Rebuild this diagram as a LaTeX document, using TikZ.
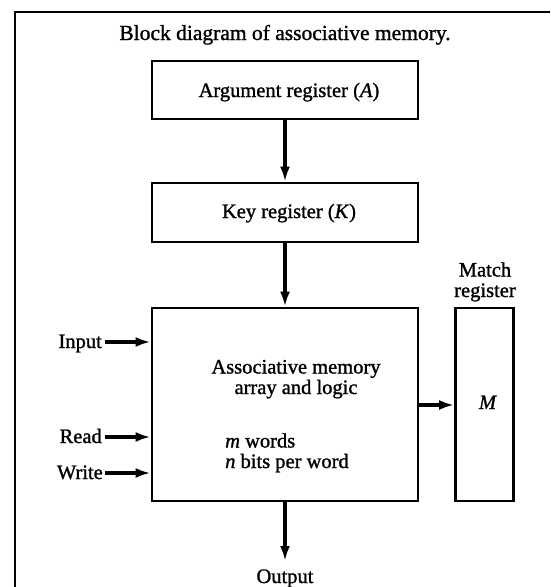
\documentclass[tikz,border=0pt]{standalone}
\usepackage{fontspec}
\setmainfont{Liberation Serif}[FakeBold=1.2]
\usetikzlibrary{arrows.meta}
\begin{document}
\begin{tikzpicture}[x=1pt,y=-1pt,
  blk/.style={draw,line width=2.8pt,inner sep=0pt},
  flow/.style={line width=3.4pt,-{Latex[length=15pt,width=10pt]}},
  lbl/.style={font=\fontsize{20.5}{20.5}\selectfont,inner sep=0pt},
]
\useasboundingbox (0,0) rectangle (550,587);
% frame
\draw[line width=2.4pt] (15,587) -- (15,12) -- (550,12);
% title
\node[font=\fontsize{21.5}{22}\selectfont,anchor=base,inner sep=0pt] (title) at (285,40) {Block diagram of associative memory.};
% registers
\node[blk,minimum width=266pt,minimum height=58pt] (arg) at (285,90) {};
\node[lbl,anchor=base] (argtext) at (289,97) {Argument register (\textit{A})};
\node[blk,minimum width=266pt,minimum height=59pt] (key) at (285,212.5) {};
\node[lbl,anchor=base] (keytext) at (289,218) {Key register (\textit{K})};
\node[blk,minimum width=266pt,minimum height=193pt] (mem) at (285,404.5) {};
\node[blk,minimum width=58pt,minimum height=193pt] (match) at (484.5,404.5) {};
\node[lbl,align=center,anchor=base] (mtitle) at (485,297) {Match\\register};
\node[lbl,anchor=base] (mlab) at (488,409) {\textit{M}};
% memory text
\node[lbl,align=center,anchor=base] (assoc) at (296,394) {Associative memory\\array and logic};
\node[lbl,align=left,anchor=base west] (words) at (225,468) {\textit{m} words\\\textit{n} bits per word};
% inputs
\coordinate (inA) at (105,342);
\coordinate (inR) at (105,437);
\coordinate (inW) at (105,473);
\node[lbl,anchor=base east] (input) at (102,348) {Input};
\node[lbl,anchor=base east] (read) at (102,443) {Read};
\node[lbl,anchor=base east] (write) at (103,479) {Write};
\draw[flow] (inA) -- (inA -| mem.west);
\draw[flow] (inR) -- (inR -| mem.west);
\draw[flow] (inW) -- (inW -| mem.west);
% vertical flow
\draw[flow] (arg.south) -- (key.north);
\draw[flow] (key.south) -- (mem.north);
\coordinate (outend) at (285,561);
\draw[flow] (mem.south) -- (outend);
\node[lbl,anchor=base] (output) at (285,583) {Output};
% match output
\draw[flow] (mem.east |- 0,405) -- (match.west |- 0,405);
\end{tikzpicture}
\end{document}
